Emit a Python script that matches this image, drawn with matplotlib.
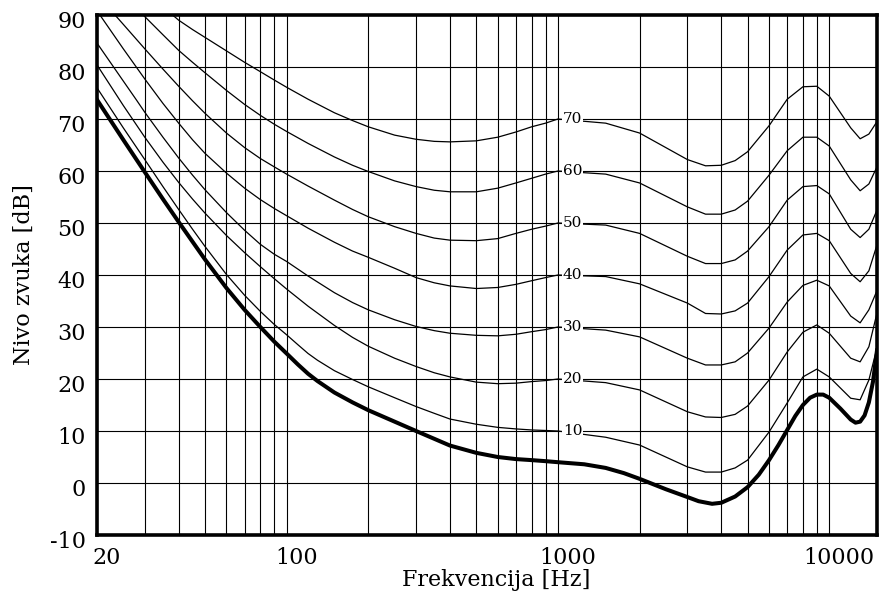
import numpy as np
import matplotlib
matplotlib.use("Agg")
import matplotlib.pyplot as plt
import matplotlib.transforms as mtransforms

# Threshold of hearing (thick curve)
thr_f = [20, 25, 30, 35, 40, 45, 50, 60, 70, 80, 90, 100, 110, 120, 130, 150, 175, 200, 250, 300, 350, 400,
         500, 600, 700, 800, 900, 1000, 1250, 1500, 1750, 2000, 2500, 3000, 3300, 3700, 4000, 4500, 5000,
         5500, 6000, 6500, 7000, 7500, 8000, 8500, 9000, 9500, 10000, 11000, 12000, 12500, 13000, 13500,
         14000, 14500, 15000]
thr_db = [73.7, 66.0, 59.8, 54.6, 50.2, 46.4, 43.0, 37.5, 33.3, 30.0, 27.2, 24.9, 22.8, 21.0, 19.6, 17.4, 15.5,
          14.0, 11.8, 10.0, 8.5, 7.2, 5.8, 5.0, 4.6, 4.4, 4.2, 4.0, 3.6, 2.9, 1.9, 0.8, -1.2, -2.7, -3.5, -4.0,
          -3.8, -2.6, -0.8, 1.6, 4.4, 7.3, 10.2, 12.9, 15.0, 16.4, 17.0, 17.0, 16.4, 14.3, 12.2, 11.6, 11.8,
          13.0, 15.5, 19.5, 25.5]

# upper part of the contours (same vertices for all of them)
right_f = [1000, 1500, 2000, 3000, 3500, 4000, 4500, 5000, 6000, 7000, 8000, 9000, 10000, 12000, 13000, 14000, 15000]

# 10 phon
p10_f = [20, 25, 30, 35, 40, 45, 50, 60, 70, 80, 90, 100, 110, 120, 130, 150, 175, 200, 250, 300, 350, 400,
         500, 600, 700, 800, 900]
p10_db = [76.0, 68.3, 62.2, 57.0, 52.6, 48.8, 45.5, 40.1, 36.1, 33.0, 30.5, 28.5, 26.6, 24.9, 23.6, 21.6, 19.9,
          18.5, 16.4, 14.7, 13.4, 12.3, 11.3, 10.7, 10.4, 10.2, 10.1]
p10_right = [10, 8.8, 7.3, 3.1, 2.1, 2.1, 2.9, 4.4, 9.8, 15.4, 20.4, 21.9, 20.4, 16.3, 16, 19.8, 26]

# 20 phon
p20_f = [20, 25, 30, 35, 40, 45, 50, 60, 70, 80, 90, 100, 120, 150, 175, 200, 250, 300, 350, 400,
         500, 600, 700, 800, 900]
p20_db = [80.4, 72.6, 66.5, 61.7, 57.8, 54.6, 51.9, 47.6, 44.3, 41.6, 39.3, 37.3, 34.0, 30.3, 28.0, 26.3,
          24.0, 22.4, 21.2, 20.4, 19.4, 19.1, 19.2, 19.5, 19.7]
p20_right = [20, 19.3, 17.9, 13.7, 12.7, 12.6, 13.2, 14.8, 19.8, 25.2, 29, 30.4, 28.8, 24, 23.3, 26.2, 32.7]

# 30 phon
p30_f = [20, 25, 28, 30, 35, 40, 45, 50, 60, 70, 80, 90, 100, 120, 150, 175, 200, 250, 300, 350, 400,
         500, 600, 700, 800, 900]
p30_db = [84.6, 77.3, 73.6, 71.3, 66.5, 62.5, 59.2, 56.4, 52.0, 48.6, 45.9, 44.0, 42.6, 39.8, 36.6, 34.7,
          33.3, 31.4, 30.1, 29.3, 28.8, 28.4, 28.3, 28.6, 29.1, 29.5]
p30_right = [30, 29.4, 28.1, 24, 22.7, 22.7, 23.3, 25, 29.8, 34.8, 38, 39, 37.9, 32.1, 30.8, 33.3, 37]

# 40 phon
p40_f = [20.5, 25, 30, 35, 40, 45, 50, 60, 70, 80, 90, 100, 120, 150, 175, 200, 250, 300, 350, 400,
         500, 600, 700, 800, 900]
p40_db = [90, 83.5, 77.7, 73.0, 69.2, 66.0, 63.4, 59.6, 56.7, 54.5, 52.8, 51.4, 49.0, 46.3, 44.6, 43.4,
          41.3, 39.5, 38.5, 37.9, 37.4, 37.6, 38.2, 38.9, 39.5]
p40_right = [40, 39.7, 38.3, 34.6, 32.6, 32.5, 33.1, 34.6, 39.7, 44.8, 47.7, 48, 46.6, 40.3, 38.7, 40.8, 45.8]

# 50 phon
p50_f = [23.3, 25, 30, 35, 40, 45, 50, 60, 70, 80, 90, 100, 120, 150, 175, 200, 250, 300, 350, 400,
         500, 600, 700, 800, 900]
p50_db = [90, 88.2, 83.5, 79.6, 76.3, 73.5, 71.1, 67.3, 64.5, 62.4, 60.8, 59.4, 57.1, 54.4, 52.6, 51.2,
          49.3, 48.0, 47.1, 46.7, 46.6, 47.0, 48.0, 48.8, 49.4]
p50_right = [50, 49.6, 48, 43.6, 42.2, 42.2, 42.9, 44.6, 49.3, 54.4, 57, 57.2, 55.6, 48.8, 47.2, 48.8, 52.5]

# 60 phon
p60_f = [29.6, 35, 40, 45, 50, 60, 70, 80, 90, 100, 120, 150, 175, 200, 250, 300, 350, 400,
         500, 600, 700, 800, 900]
p60_db = [90, 86.2, 83.2, 80.9, 78.9, 75.5, 72.8, 70.7, 69.0, 67.6, 65.3, 62.7, 61.1, 59.9, 58.1, 57.0,
          56.3, 56.0, 56.0, 56.7, 57.7, 58.6, 59.4]
p60_right = [60, 59.4, 57.7, 53.1, 51.7, 51.7, 52.5, 54.2, 59.2, 63.9, 66.5, 66.5, 64.8, 58.3, 56.2, 57.5, 60.8]

# 70 phon
p70_f = [38, 40, 45, 50, 60, 70, 80, 90, 100, 120, 150, 175, 200, 250, 300, 350, 400,
         500, 600, 700, 800, 900]
p70_db = [90, 89.0, 87.2, 85.7, 83.1, 80.9, 79.1, 77.5, 76.1, 73.8, 71.2, 69.7, 68.5, 66.9, 66.1, 65.7,
          65.6, 65.8, 66.5, 67.5, 68.5, 69.2]
p70_right = [70, 69.2, 67.3, 62.2, 61, 61.1, 62, 63.7, 68.7, 73.8, 76.2, 76.3, 74.4, 68.3, 66.2, 67.1, 69.5]

phons = [10, 20, 30, 40, 50, 60, 70]
contours = [(p10_f, p10_db, p10_right), (p20_f, p20_db, p20_right), (p30_f, p30_db, p30_right),
            (p40_f, p40_db, p40_right), (p50_f, p50_db, p50_right), (p60_f, p60_db, p60_right),
            (p70_f, p70_db, p70_right)]

xticks = [20, 100, 1000, 10000]
xgrid = [30, 40, 50, 60, 70, 80, 90, 200, 300, 400, 500, 600, 700, 800, 900,
         2000, 3000, 4000, 5000, 6000, 7000, 8000, 9000]
yticks = list(range(-10, 100, 10))

plt.rcParams['font.family'] = ['DejaVu Serif']
plt.rcParams['axes.unicode_minus'] = False

fig = plt.figure(figsize=(8.81, 5.96), dpi=100)
ax = fig.add_axes([97 / 881, 1 - 535 / 596, 780 / 881, 520 / 596])

ax.set_xscale('log')
ax.set_xlim(20, 15000)
ax.set_ylim(-10, 90)

# contours + labels at 1000 Hz
for (f_left, db_left, db_right), ph in zip(contours, phons):
    f_all = list(f_left) + right_f
    db_all = list(db_left) + db_right
    ax.plot(f_all, db_all, color='black', lw=0.9, zorder=3)
    ax.text(1000, ph, str(ph), transform=mtransforms.offset_copy(ax.transData, fig=fig, x=5, y=0, units='dots'),
            ha='left', va='center', fontsize=11, zorder=4,
            bbox=dict(facecolor='white', edgecolor='none', pad=0.6))

ax.plot(thr_f, thr_db, color='black', lw=2.9, zorder=3)

# grid
ax.set_xticks(xticks)
ax.set_xticklabels([str(t) for t in xticks])
ax.set_xticks(xgrid, minor=True)
ax.xaxis.set_minor_formatter(plt.NullFormatter())
ax.set_yticks(yticks)
ax.set_yticklabels([str(t) for t in yticks])
ax.grid(which='both', color='black', lw=0.8, zorder=1)
ax.set_axisbelow(True)
ax.tick_params(which='both', length=0, labelsize=16)
ax.tick_params(axis='x', pad=9)
ax.tick_params(axis='y', pad=8)

# tick labels are shifted a bit in the original
dx = mtransforms.ScaledTranslation(10 / 100, 0, fig.dpi_scale_trans)
for lab in ax.get_xticklabels():
    lab.set_transform(lab.get_transform() + dx)
dy = mtransforms.ScaledTranslation(0, -4 / 100, fig.dpi_scale_trans)
for lab in ax.get_yticklabels():
    lab.set_transform(lab.get_transform() + dy)

for s in ax.spines.values():
    s.set_linewidth(2.6)
    s.set_zorder(5)

ax.set_xlabel('Frekvencija [Hz]', fontsize=16)
ax.set_ylabel('Nivo zvuka [dB]', fontsize=16)
ax.xaxis.set_label_coords((496 - 97) / 780, (535 - 569) / 520)
ax.yaxis.set_label_coords((35 - 97) / 780, 0.5)

fig.savefig('out.png', dpi=100)
